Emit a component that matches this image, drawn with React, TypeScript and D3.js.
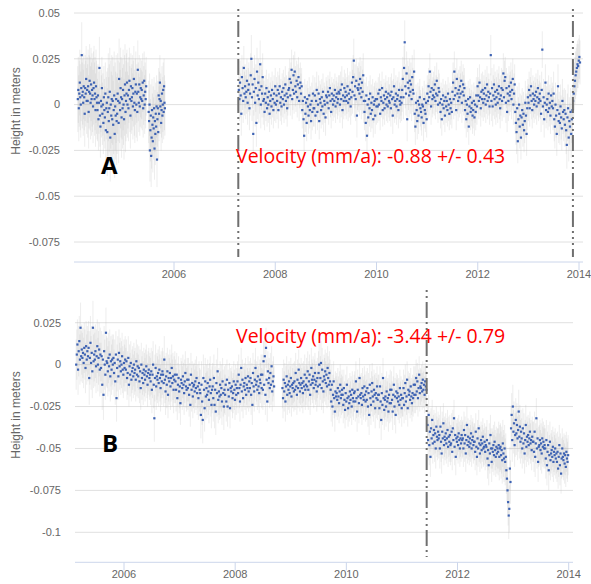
import React from "react";
import * as d3 from "d3";

// Each run of daily solutions: [first year, last year], heights in mm,
// error half-lengths in mm (one per block of 20 samples).

// Station A
const aRun1Years = [2004.1, 2005.45];
const aRun1Heights = [
  3, 8, -2, 6, 12, 4, 0, 9, 27, 5, 7, 1, 10, 4, -5, 9, 6, 14, 2, 8,
  2, 10, -4, 7, 13, 6, 1, 11, 3, 8, 5, -1, 9, 12, 3, 6, -3, 10, 4, 1,
  -3, 5, -8, 1, 20, -6, -12, 2, -1, 9, -5, 0, -10, 4, -3, -7, 6, -14, -2, 1,
  -15, -4, 4, -9, -2, 7, -18, 0, -6, 3, -8, 2, -11, -3, 5, -16, -1, -6, 3, -9,
  -5, 6, 2, -10, 14, 1, -3, 9, 4, -7, 3, -2, 8, 0, -8, 5, 11, -4, 2, 6,
  12, 0, 5, -2, 8, 13, 3, -6, 10, 2, 4, 9, -1, 6, 14, 1, -3, 7, 11, 0,
  6, -4, 19, 7, 1, 11, -1, 4, 9, 3, 8, 2, 12, -2, 5, 13, 0, 7, 3, 10,
];
const aRun1Errors = [18, 20, 17, 24, 22, 18, 16];

const aRun2Years = [2005.5, 2005.82];
const aRun2Heights = [
  -4, -9, 0, -25, -14, -6, -28, -18, -3, -11, -20, -7, -13, -2, -24, -9, -16, -5, -12, -1,
  -30, -8, -2, -15, 5, -5, 3, 12, -1, 2, -10, -3, 6, -6, 0, 8, -4, 10, 1, -2,
];
const aRun2Errors = [17, 15];

const aRun3Years = [2007.28, 2014.02];
const aRun3Heights = [
  8, 3, 12, 5, -5, 15, 9, 2, 20, 6, 10, 4, 7, 13, 1, 8, 11, -2, 6, 16,
  25, 4, 11, -16, 7, 14, 1, 9, -10, 18, 5, 12, 3, 8, 22, 0, 10, 6, 15, 2,
  3, -4, 6, 1, 9, -2, 4, 0, 7, -5, 2, 5, -1, 8, 3, -3, 6, 1, 10, 0,
  5, 2, 8, -3, 6, 10, 1, 4, -1, 7, 3, 9, 0, 5, 11, 2, 6, -2, 4, 8,
  9, 14, 5, 12, 19, 3, 8, 16, 6, 18, 10, 7, 13, 4, 11, 15, 2, 9, 12, 6,
  10, -3, 2, -8, -17, 4, -5, 1, -10, 3, -1, -6, 5, -3, 0, -9, 2, -4, 6, -2,
  -2, 5, -6, 2, 8, -4, 0, 6, -9, 3, 1, -3, 4, -1, 7, -5, 2, 0, -7, 5,
  4, 1, 7, -2, 5, 9, 2, -4, 6, 3, 0, 5, 2, 8, -1, 4, 6, 1, 3, 7,
  6, 0, 8, 3, 11, -3, 5, 2, 9, 4, 7, 2, 5, 10, 1, 6, 3, 8, -1, 4,
  12, 7, 15, 24, 5, 10, 3, 13, -6, 9, 8, 11, 6, 14, 9, 4, 12, 7, 16, 2,
  -4, 2, -10, 5, -17, 0, -7, 3, -2, 6, -5, 1, -3, 4, -8, 0, 2, -6, 3, -1,
  3, -1, 6, 0, 8, -5, 4, 2, 9, -3, 1, 5, -2, 3, 7, 0, 4, -1, 6, 2,
  1, 5, -2, 7, 3, -6, 4, 10, 0, 2, 6, -1, 3, 5, -3, 8, 2, 0, 4, 1,
  8, 14, 4, 20, 34, 10, 6, 17, -8, 12, 9, 5, 13, 7, 11, 3, 15, 8, 6, 18,
  -5, -12, 1, -3, -9, 2, -6, 0, 4, -2, -4, -7, 0, -1, -10, 3, -3, -5, 1, -8,
  6, 2, 10, 4, 18, 7, -1, 9, 3, 5, 8, 4, 11, 2, 6, 13, 5, 0, 9, 7,
  1, -4, 3, -8, 0, 5, -2, 2, -6, 4, -1, 2, -3, 6, 0, -5, 3, -2, 1, -4,
  7, 12, 3, 18, 5, 9, -3, 14, 6, 2, 8, 4, 10, 6, 13, 1, 7, 11, 5, 9,
  -3, 2, -8, 0, -5, 3, -12, -1, 4, -4, -2, 1, -6, -3, 2, -7, 0, -4, 5, -1,
  10, 5, 2, 12, 4, -2, 7, 3, 8, 1, 6, 3, 9, 0, 5, 11, 2, 7, 4, -1,
  6, 27, 2, 9, -1, 5, 11, 3, 7, 0, 4, 8, 1, 6, 10, 3, -2, 5, 9, 2,
  8, 17, 4, 13, 15, 1, 9, -4, 6, 2, 10, 5, 7, 12, 3, 8, 14, 0, 6, 11,
  -4, -10, -15, -2, -20, -8, 0, -12, -6, -18, -7, -3, -11, -5, -14, -9, 1, -6, -16, -2,
  4, 1, 8, -2, 5, 10, 2, -3, 6, 3, 0, 5, 2, 7, -1, 4, 9, 1, 3, 6,
  2, -5, 8, 30, -1, 4, -8, 1, 12, -3, 0, 3, -4, 6, -2, 1, -6, 5, -1, 2,
  -2, 6, -8, -12, 0, -6, -16, -3, 10, -9, -5, -10, -1, -7, -13, 2, -4, -8, -3, -11,
  -5, -14, -22, -7, -2, -18, -9, -12, -4, -16, -8, -3, 2, 6, 10, 13, 16, 18, 20, 22,
  21, 24, 26, 23,
];
const aRun3Errors = [
  12, 13, 10, 10, 11, 10, 10, 9, 10, 12, 10, 9, 10, 12, 10, 10, 9, 11, 10, 10,
  11, 11, 12, 10, 10, 12, 13, 12,
];

// Station B
const bRun1Years = [2005.14, 2008.7];
const bRun1Heights = [
  0, 6, 12, -3, 8, 14, 3, 22, 5, 9, 4, 7, 1, 10, 6, -2, 11, 3, 8, 5,
  10, -8, 4, 13, 1, 7, -4, 22, 2, 6, 3, 8, -1, 5, 11, 0, 4, 9, -3, 6,
  -2, 5, -12, 3, -18, 8, 0, -6, 19, 2, 1, -4, 4, -1, 6, -7, 2, -3, 3, 0,
  4, -5, 1, -10, 6, -20, -2, 3, -7, 7, -1, 2, -4, 0, 5, -3, -6, 1, -2, 3,
  -3, 2, -8, -5, 4, -12, -1, -6, 1, -9, -4, -2, -7, 0, -5, -3, -9, 2, -6, -1,
  -7, -2, -10, -4, -14, 0, -8, -5, -11, -3, -6, -9, -4, -1, -7, -12, -5, -3, -8, -6,
  -10, -4, -15, -6, 0, -12, -32, -8, -2, -13, -7, -9, -5, -11, -3, -8, -14, -6, -10, -4,
  -6, -11, 3, -9, -16, -7, -12, -4, -18, -8, -10, -5, -13, -8, -2, -11, -7, -15, -9, -6,
  -10, -15, -6, -20, -12, -8, -16, -13, -23, -9, -11, -14, -7, -12, -17, -10, -5, -13, -15, -9,
  -14, -9, -18, -12, -24, -6, -15, -11, -19, -13, -12, -16, -10, -14, -8, -17, -13, -20, -11, -15,
  -17, -30, -12, -22, -33, -8, -15, -26, -10, -19, -14, -18, -11, -16, -21, -13, -9, -17, -24, -15,
  -13, -20, -8, -24, -15, -28, -11, -17, -4, -21, -16, -19, -12, -18, -14, -22, -10, -17, -25, -15,
  -18, -12, -22, -9, -25, -15, -19, -11, -26, -14, -16, -13, -20, -17, -10, -15, -21, -12, -18, -14,
  -10, -17, -6, -14, -22, -12, -2, -16, -9, -20, -13, -11, -15, -8, -18, -12, -14, -7, -16, -10,
  -14, -8, -18, -11, -24, -5, -13, -16, -9, -2, -12, -10, -15, -7, -13, -17, -9, -11, -6, -14,
  -6, -15, 2, -12, 5, -18, 10, -9, -22, -4, -11, -8, -14, -5, -12, -1, -16, -10, -7, -13,
];
const bRun1Errors = [15, 16, 15, 14, 13, 13, 14, 14, 13, 13, 14, 14, 12, 12, 12, 12];

const bRun2Years = [2008.85, 2011.44];
const bRun2Heights = [
  -14, -20, -9, -16, -11, -22, -13, -7, -18, -12, -15, -10, -17, -13, -8, -19, -12, -14, -11, -16,
  -10, -15, -5, -13, -18, -9, -14, -3, -11, -16, -12, -8, -14, -11, -17, -10, -13, -6, -15, -12,
  -8, -13, -4, -15, -10, -6, -18, -12, -2, -9, -11, -7, -14, -9, -5, -12, -10, -16, -8, -13,
  -5, 0, -12, -8, 1, -14, -3, -10, -16, -7, -9, -4, -11, -6, -13, -2, -8, -12, -5, -10,
  -15, -22, -12, -25, -18, -10, -20, -28, -16, -19, -17, -21, -14, -19, -23, -16, -12, -20, -18, -15,
  -18, -24, -14, -21, -27, -17, -22, -12, -20, -26, -19, -23, -16, -21, -18, -25, -15, -20, -22, -17,
  -16, -22, -10, -20, -28, -15, -19, -23, -8, -18, -20, -17, -24, -14, -19, -21, -13, -18, -22, -16,
  -21, -14, -25, -17, -30, -12, -20, -24, -16, -11, -19, -22, -15, -18, -26, -17, -20, -13, -21, -18,
  -18, -26, -13, -22, -33, -17, -24, -8, -20, -27, -21, -19, -25, -16, -22, -20, -28, -18, -23, -15,
  -23, -15, -21, -28, -18, -12, -25, -19, -30, -16, -20, -17, -22, -19, -24, -14, -21, -18, -26, -20,
  -20, -14, -24, -17, -11, -22, -19, -9, -26, -15, -18, -16, -21, -13, -19, -23, -17, -20, -12, -18,
  -12, -18, -8, -16, -10, -20, -14, -6, -17, -13, -14, -11, -16, -9, -15, -12, -18, -10, -13, -15,
];
const bRun2Errors = [12, 12, 12, 13, 12, 11, 12, 12, 12, 11, 11, 11];

const bRun3Years = [2011.46, 2013.99];
const bRun3Heights = [
  -36, -45, -30, -48, -40, -55, -38, -44, -33, -47, -42, -39, -46, -41, -50, -37, -43, -45, -40, -44,
  -42, -50, -37, -46, -53, -40, -44, -35, -48, -43, -45, -41, -47, -44, -39, -49, -43, -46, -42, -48,
  -47, -40, -52, -38, -45, -32, -49, -42, -55, -44, -46, -43, -48, -41, -45, -50, -44, -47, -42, -45,
  -44, -50, -39, -47, -42, -53, -45, -36, -48, -43, -46, -49, -44, -47, -41, -50, -45, -43, -48, -46,
  -46, -52, -40, -49, -55, -44, -50, -38, -47, -53, -48, -45, -51, -47, -43, -50, -49, -46, -52, -48,
  -49, -45, -56, -51, -60, -47, -53, -42, -50, -58, -50, -52, -48, -54, -46, -51, -55, -49, -53, -50,
  -52, -48, -55, -50, -49, -54, -51, -57, -47, -53, -56, -50, -58, -55, -63, -68, -75, -82, -90, -86,
  -62, -70, -38, -30, -45, -25, -40, -35, -48, -42, -33, -41, -36, -44, -39, -28, -43, -37, -46, -40,
  -44, -50, -38, -47, -41, -53, -45, -36, -49, -43, -46, -42, -48, -44, -40, -47, -45, -51, -43, -46,
  -46, -52, -40, -55, -47, -32, -50, -44, -58, -49, -48, -45, -51, -47, -53, -44, -49, -46, -50, -48,
  -50, -56, -45, -60, -52, -48, -63, -54, -46, -57, -53, -51, -55, -49, -58, -52, -54, -50, -56, -53,
  -58, -52, -62, -55, -48, -60, -53, -65, -56, -50, -55, -57, -53, -59, -54, -61, -52, -56, -58, -54,
];
const bRun3Errors = [12, 12, 11, 11, 11, 12, 14, 13, 12, 12, 12, 12];

const xTickYears = [2006, 2008, 2010, 2012, 2014];
const aHeightTicks = [0.05, 0.025, 0, -0.025, -0.05, -0.075];
const bHeightTicks = [0.025, 0, -0.025, -0.05, -0.075, -0.1];
const aBreakYears = [2007.27, 2013.88];
const bBreakYears = [2011.445];
const aVelocity = "Velocity (mm/a): -0.88 +/- 0.43";
const bVelocity = "Velocity (mm/a): -3.44 +/- 0.79";

type Sample = { t: number; h: number; e: number };

function toSamples(years: number[], heights: number[], errors: number[]): Sample[] {
  const step = (years[1] - years[0]) / (heights.length - 1);
  return heights.map((v, i) => ({
    t: years[0] + i * step,
    h: v / 1000,
    e: errors[Math.min(errors.length - 1, Math.floor(i / 20))] / 1000,
  }));
}

const aSamples = [
  ...toSamples(aRun1Years, aRun1Heights, aRun1Errors),
  ...toSamples(aRun2Years, aRun2Heights, aRun2Errors),
  ...toSamples(aRun3Years, aRun3Heights, aRun3Errors),
];
const bSamples = [
  ...toSamples(bRun1Years, bRun1Heights, bRun1Errors),
  ...toSamples(bRun2Years, bRun2Heights, bRun2Errors),
  ...toSamples(bRun3Years, bRun3Heights, bRun3Errors),
];

const AXIS_FONT = "'Liberation Sans', Arial, sans-serif";

function Panel({
  id,
  samples,
  ticks,
  breaks,
  x0,
  x1,
  tickPx,
  yPx,
  axisY,
  titleY,
  label,
  labelPos,
  velocity,
  velocityPos,
  breakTop,
  breakBottom,
}: any) {
  const x = d3.scaleLinear().domain([2006, 2014]).range(tickPx);
  const y = d3.scaleLinear().domain([ticks[0], ticks[ticks.length - 1]]).range(yPx);
  const clipId = `clip-${id}`;

  return (
    <g>
      <defs>
        <clipPath id={clipId}>
          <rect x={x0} y={breakTop - 4} width={x1 - x0} height={axisY - breakTop + 4} />
        </clipPath>
      </defs>

      {ticks.map((v: number) => (
        <g key={v}>
          <line x1={x0} x2={x1} y1={y(v)} y2={y(v)} stroke="#e0e0e0" strokeWidth={1} />
          <text
            x={x0 - 14}
            y={y(v)}
            dy="0.35em"
            textAnchor="end"
            fontSize={11}
            fill="#666"
            fontFamily={AXIS_FONT}
          >
            {String(v)}
          </text>
        </g>
      ))}

      <text
        transform={`translate(16,${titleY}) rotate(-90)`}
        textAnchor="middle"
        dy="0.35em"
        fontSize={12}
        fill="#666"
        fontFamily={AXIS_FONT}
      >
        Height in meters
      </text>

      <g clipPath={`url(#${clipId})`}>
        <g stroke="#bdbdbd" strokeOpacity={0.25} strokeWidth={1}>
          {samples.map((d: Sample, i: number) => (
            <line key={i} x1={x(d.t)} x2={x(d.t)} y1={y(d.h + d.e)} y2={y(d.h - d.e)} />
          ))}
        </g>
        <g fill="#3d62b3">
          {samples.map((d: Sample, i: number) => (
            <rect key={i} x={x(d.t) - 1.1} y={y(d.h) - 1.1} width={2.2} height={2.2} />
          ))}
        </g>
      </g>

      {breaks.map((t: number) => (
        <line
          key={t}
          x1={x(t)}
          x2={x(t)}
          y1={breakTop}
          y2={breakBottom}
          stroke="#6f6f6f"
          strokeWidth={2}
          strokeDasharray="16,4,2,4,2,4,2,4"
          strokeDashoffset={22}
        />
      ))}

      <line x1={x0} x2={x1} y1={axisY} y2={axisY} stroke="#ccd6eb" strokeWidth={1} />
      {xTickYears.map((t) => (
        <g key={t}>
          <line x1={x(t)} x2={x(t)} y1={axisY} y2={axisY + 8} stroke="#ccd6eb" />
          <text
            x={x(t)}
            y={axisY + 16}
            textAnchor="middle"
            fontSize={11}
            fill="#666"
            fontFamily={AXIS_FONT}
          >
            {t}
          </text>
        </g>
      ))}

      <text
        x={velocityPos[0]}
        y={velocityPos[1]}
        fontSize={19.5}
        fill="#ff0000"
        fontFamily="'Open Sans', sans-serif"
      >
        {velocity}
      </text>
      <text
        x={labelPos[0]}
        y={labelPos[1]}
        fontSize={24}
        fontWeight="bold"
        fill="#000"
        fontFamily="'Open Sans', sans-serif"
      >
        {label}
      </text>
    </g>
  );
}

export default function App() {
  return (
    <svg
      width={591}
      height={584}
      viewBox="0 0 591 584"
      style={{ position: "absolute", left: 0, top: 0, background: "#fff" }}
    >
      <rect width={591} height={584} fill="#fff" />
      <Panel
        id="a"
        samples={aSamples}
        ticks={aHeightTicks}
        breaks={aBreakYears}
        x0={74}
        x1={583}
        tickPx={[174, 579]}
        yPx={[13, 242]}
        axisY={262}
        titleY={111}
        label="A"
        labelPos={[101, 174]}
        velocity={aVelocity}
        velocityPos={[236, 163]}
        breakTop={5}
        breakBottom={257}
      />
      <Panel
        id="b"
        samples={bSamples}
        ticks={bHeightTicks}
        breaks={bBreakYears}
        x0={75}
        x1={573}
        tickPx={[124, 568.7]}
        yPx={[322.7, 532.3]}
        axisY={562.3}
        titleY={415}
        label="B"
        labelPos={[102, 452]}
        velocity={bVelocity}
        velocityPos={[236, 342.5]}
        breakTop={286}
        breakBottom={557}
      />
    </svg>
  );
}
